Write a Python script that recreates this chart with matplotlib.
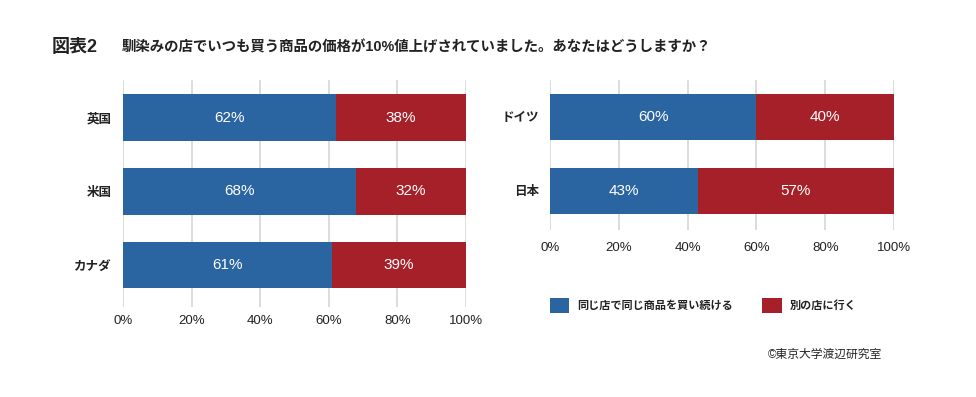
import matplotlib
matplotlib.use("Agg")
import matplotlib.pyplot as plt
from matplotlib.patches import Patch

plt.rcParams["font.family"] = ["Liberation Sans", "Noto Sans CJK JP", "DejaVu Sans"]

BLUE = "#2a64a1"
RED = "#a52028"
GRID = "#d9d9d9"
INK = "#222222"

TITLE_TAG = "図表2"
TITLE = "馴染みの店でいつも買う商品の価格が10%値上げされていました。あなたはどうしますか？"
SERIES = ["同じ店で同じ商品を買い続ける", "別の店に行く"]
SOURCE = "©東京大学渡辺研究室"

LEFT_COUNTRIES = ["英国", "米国", "カナダ"]
LEFT_STAY = [62, 68, 61]
LEFT_SWITCH = [38, 32, 39]

RIGHT_COUNTRIES = ["ドイツ", "日本"]
RIGHT_STAY = [60, 43]
RIGHT_SWITCH = [40, 57]

TICKS = [0, 20, 40, 60, 80, 100]

W, H = 976, 397
fig = plt.figure(figsize=(W / 100, H / 100), dpi=100)


def px_axes(x0, x1, y0, y1):
    return fig.add_axes([x0 / W, 1 - y1 / H, (x1 - x0) / W, (y1 - y0) / H])


def panel(ax, names, stay, switch, ylim, pad):
    ys = list(range(len(names)))
    ax.barh(ys, stay, height=0.63, color=BLUE, zorder=3)
    ax.barh(ys, switch, left=stay, height=0.63, color=RED, zorder=3)
    for y, a, b in zip(ys, stay, switch):
        ax.text(a / 2, y, f"{a}%", ha="center", va="center", color="white",
                fontsize=11, zorder=4)
        ax.text(a + b / 2, y, f"{b}%", ha="center", va="center", color="white",
                fontsize=11, zorder=4)
    ax.set_xlim(0, 100)
    ax.set_ylim(*ylim)
    ax.set_xticks(TICKS)
    ax.set_xticklabels([f"{t}%" for t in TICKS], fontsize=9.5, color=INK)
    ax.set_yticks(ys)
    ax.set_yticklabels(names, fontsize=9, fontweight="bold", color=INK)
    ax.tick_params(axis="x", length=0, pad=pad)
    ax.tick_params(axis="y", length=0, pad=8)
    ax.grid(axis="x", color=GRID, lw=1.3, zorder=0)
    ax.set_axisbelow(True)
    for s in ax.spines.values():
        s.set_visible(False)


ax1 = px_axes(123, 466, 80, 307)
panel(ax1, LEFT_COUNTRIES, LEFT_STAY, LEFT_SWITCH, (2.57, -0.51), 6)

ax2 = px_axes(550, 894, 80, 230)
panel(ax2, RIGHT_COUNTRIES, RIGHT_STAY, RIGHT_SWITCH, (1.53, -0.5), 8.5)

fig.text(52 / W, 1 - 47 / H, TITLE_TAG, fontsize=13, fontweight="bold",
         va="center", ha="left", color=INK)
fig.text(122 / W, 1 - 47 / H, TITLE, fontsize=10.4, fontweight="bold",
         va="center", ha="left", color=INK)

handles = [Patch(facecolor=BLUE), Patch(facecolor=RED)]
leg = fig.legend(handles, SERIES, loc="upper left",
                 bbox_to_anchor=(550 / W, 1 - 298 / H), ncol=2, frameon=False,
                 borderaxespad=0, borderpad=0, handlelength=1.75,
                 handleheight=1.75, handletextpad=0.7, columnspacing=2.65,
                 prop={"size": 8, "weight": "bold"})
for t in leg.get_texts():
    t.set_color(INK)

fig.text(768 / W, 1 - 355 / H, SOURCE, fontsize=8.5, va="center", ha="left",
         color=INK)

fig.savefig("out.png", dpi=100)
